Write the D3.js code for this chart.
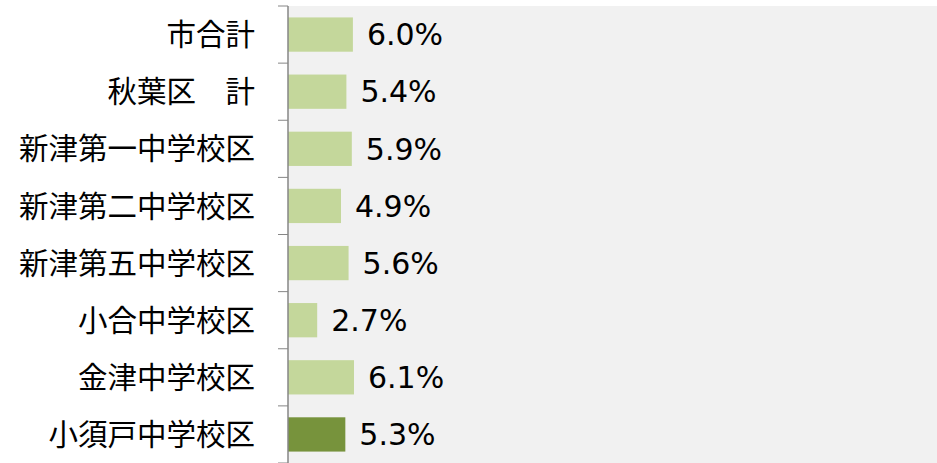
<!DOCTYPE html>
<html>
<head>
<meta charset="utf-8">
<script src="https://cdn.jsdelivr.net/npm/d3@7"></script>
<style>
  html, body { margin: 0; padding: 0; background: #fff; }
  svg { display: block; }
</style>
</head>
<body>
<div id="chart"></div>
<script>
const categories = ["市合計", "秋葉区　計", "新津第一中学校区", "新津第二中学校区", "新津第五中学校区", "小合中学校区", "金津中学校区", "小須戸中学校区"];
const values = [6.0, 5.4, 5.9, 4.9, 5.6, 2.7, 6.1, 5.3];
const highlight = "小須戸中学校区";
const xMax = 60;

const width = 937;
const height = 463;
const margin = { top: 6, right: 0, bottom: 0, left: 288 };

const svg = d3.select("#chart").append("svg")
  .attr("width", width)
  .attr("height", height);

const x = d3.scaleLinear()
  .domain([0, xMax])
  .range([margin.left, width - margin.right]);

const y = d3.scaleBand()
  .domain(categories)
  .range([margin.top, height - margin.bottom])
  .paddingInner(0.4)
  .paddingOuter(0.2);

// plot background
svg.append("rect")
  .attr("x", margin.left)
  .attr("y", margin.top)
  .attr("width", width - margin.right - margin.left)
  .attr("height", height - margin.bottom - margin.top)
  .attr("fill", "#f1f1f1");

// bars
svg.append("g")
  .selectAll("rect")
  .data(categories)
  .join("rect")
  .attr("x", x(0))
  .attr("y", (d) => y(d))
  .attr("width", (d, i) => x(values[i]) - x(0))
  .attr("height", y.bandwidth())
  .attr("fill", (d) => d === highlight ? "#77933c" : "#c4d79b");

// value labels
svg.append("g")
  .selectAll("text")
  .data(categories)
  .join("text")
  .attr("x", (d, i) => x(values[i]) + 14)
  .attr("y", (d) => y(d) + y.bandwidth() / 2)
  .attr("dy", "0.36em")
  .attr("font-family", "'DejaVu Sans', Verdana, sans-serif")
  .attr("font-size", "30px")
  .attr("fill", "#000")
  .text((d, i) => values[i].toFixed(1) + "%");

// category axis: ticks sit on band boundaries
const step = y.step();
const boundaries = d3.range(categories.length + 1).map((i) => margin.top + i * step);

const axis = svg.append("g");
axis.append("line")
  .attr("x1", margin.left).attr("x2", margin.left)
  .attr("y1", margin.top).attr("y2", height)
  .attr("stroke", "#868686")
  .attr("stroke-width", 1.5);
axis.selectAll(".tick")
  .data(boundaries)
  .join("line")
  .attr("class", "tick")
  .attr("x1", margin.left - 10).attr("x2", margin.left)
  .attr("y1", (d) => d).attr("y2", (d) => d)
  .attr("stroke", "#868686")
  .attr("stroke-width", 1);

svg.append("g")
  .selectAll("text")
  .data(categories)
  .join("text")
  .attr("x", margin.left - 33)
  .attr("y", (d) => y(d) + y.bandwidth() / 2)
  .attr("dy", "0.36em")
  .attr("text-anchor", "end")
  .attr("font-family", "'Noto Sans CJK JP', sans-serif")
  .attr("font-size", "29.5px")
  .attr("fill", "#000")
  .text((d) => d);
</script>
</body>
</html>
